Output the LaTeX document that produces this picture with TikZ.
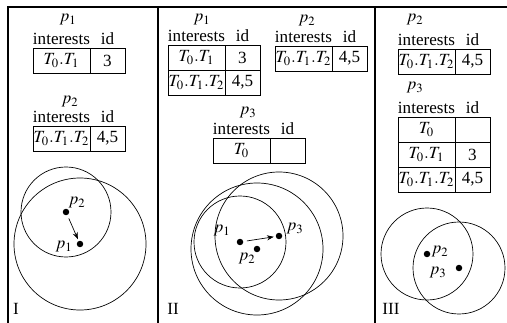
\documentclass[tikz,border=0pt]{standalone}
\usepackage{mathptmx}
\usepackage[no-math]{fontspec}
\setmainfont{Liberation Serif}
\usetikzlibrary{arrows.meta,positioning}

\begin{document}
\begin{tikzpicture}[
  x=0.585pt, y=-0.585pt,
  font=\fontsize{10}{12}\selectfont,
  node distance=0pt,
  lcell/.style={draw, minimum width=33.3pt, minimum height=14.6pt,
                inner sep=0pt, outer sep=0pt},
  rcell/.style={lcell, minimum width=20.5pt},
  head/.style={inner sep=1pt},
  lbl/.style={inner sep=0pt},
  dot/.style={circle, fill, inner sep=0pt, minimum size=3.8pt},
  frame/.style={line width=0.7pt},
  arr/.style={-{Stealth[length=4pt]}, shorten <=2pt, shorten >=1pt}]
\useasboundingbox (0,0) rectangle (507,323);
% panels
\draw[frame] (8,323) -- (8,7) -- (507,7);
\draw[frame] (158,7) -- (158,323);
\draw[frame] (375,7) -- (375,323);

% ---- I ----
\node[lcell, anchor=north west] (ia) at (33,48) {$T_0.T_1$};
\node[rcell, right=of ia] (iaid) {3};
\node[head, above=0.5pt of ia] (iah) {interests};
\node[head, above=0.5pt of iaid] (iahid) {id};
\node[lbl] (iap) at (68,20) {$p_1$};
\node[lcell, anchor=north west] (ib) at (33,126) {$T_0.T_1.T_2$};
\node[rcell, right=of ib] (ibid) {4,5};
\node[head, above=0.5pt of ib] (ibh) {interests};
\node[head, above=0.5pt of ibid] (ibhid) {id};
\node[lbl] (ibp) at (70,102) {$p_2$};

\node[dot] (ip2) at (66,212) {};
\node[dot] (ip1) at (80,244) {};
\draw (ip2) circle[radius=45];
\draw (ip1) circle[radius=66];
\draw[arr] (ip2) -- (ip1);
\node[lbl] (ip2l) at (77,203) {$p_2$};
\node[lbl] (ip1l) at (64,247) {$p_1$};
\node[lbl] (inum) at (16,309) {I};

% ---- II ----
\node[lcell, anchor=north west] (iia) at (168,45) {$T_0.T_1$};
\node[rcell, right=of iia] (iiaid) {3};
\node[lcell, below=of iia] (iia2) {$T_0.T_1.T_2$};
\node[rcell, right=of iia2] (iia2id) {4,5};
\node[head, above=0.5pt of iia] (iiah) {interests};
\node[head, above=0.5pt of iiaid] (iiahid) {id};
\node[lbl] (iiap) at (202,20) {$p_1$};
\node[lcell, anchor=north west] (iib) at (275,46) {$T_0.T_1.T_2$};
\node[rcell, right=of iib] (iibid) {4,5};
\node[head, above=0.5pt of iib] (iibh) {interests};
\node[head, above=0.5pt of iibid] (iibhid) {id};
\node[lbl] (iibp) at (307,21) {$p_2$};
\node[lcell, anchor=north west] (iic) at (213,138) {$T_0$};
\node[rcell, right=of iic] (iicid) {};
\node[head, above=0.5pt of iic] (iich) {interests};
\node[head, above=0.5pt of iicid] (iichid) {id};
\node[lbl] (iicp) at (248,113) {$p_3$};

\node[dot] (iip1) at (240,242) {};
\node[dot] (iip2) at (257,249) {};
\node[dot] (iip3) at (279,236) {};
\draw (iip1) circle[radius=46];
\draw (iip2) circle[radius=66];
\draw (iip3) circle[radius=64];
\draw[arr] (iip1) -- (iip3);
\node[lbl] (iip1l) at (222,231) {$p_1$};
\node[lbl] (iip2l) at (247,259) {$p_2$};
\node[lbl] (iip3l) at (295,229) {$p_3$};
\node[lbl] (iinum) at (173,309) {II};

% ---- III ----
\node[lcell, anchor=north west] (iiia) at (398,49) {$T_0.T_1.T_2$};
\node[rcell, right=of iiia] (iiiaid) {4,5};
\node[head, above=0.5pt of iiia] (iiiah) {interests};
\node[head, above=0.5pt of iiiaid] (iiiahid) {id};
\node[lbl] (iiiap) at (415,20) {$p_2$};
\node[lcell, anchor=north west] (iiib) at (398,117) {$T_0$};
\node[rcell, right=of iiib] (iiibid) {};
\node[lcell, below=of iiib] (iiib2) {$T_0.T_1$};
\node[rcell, right=of iiib2] (iiib2id) {3};
\node[lcell, below=of iiib2] (iiib3) {$T_0.T_1.T_2$};
\node[rcell, right=of iiib3] (iiib3id) {4,5};
\node[head, above=0.5pt of iiib] (iiibh) {interests};
\node[head, above=0.5pt of iiibid] (iiibhid) {id};
\node[lbl] (iiibp) at (415,88) {$p_3$};

\node[dot] (iiip2) at (427,254) {};
\node[dot] (iiip3) at (459,268) {};
\draw (iiip2) circle[radius=46];
\draw (iiip3) circle[radius=46];
\node[lbl] (iiip2l) at (440,252) {$p_2$};
\node[lbl] (iiip3l) at (438,273) {$p_3$};
\node[lbl] (iiinum) at (391,309) {III};
\end{tikzpicture}
\end{document}
